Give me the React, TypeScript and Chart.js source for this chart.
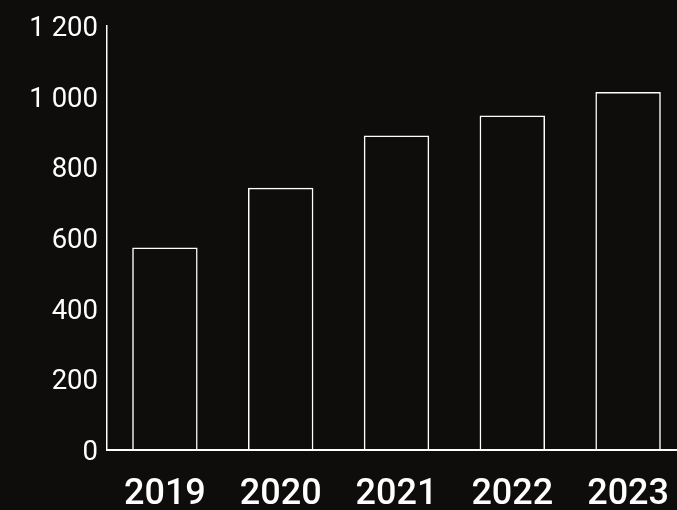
import { useEffect, useRef } from "react";
import { Chart, registerables } from "chart.js";

Chart.register(...registerables);

const categories = ["2019", "2020", "2021", "2022", "2023"];
const values = [573, 742, 890, 947, 1013];
const yMin = 0;
const yMax = 1200;
const yStep = 200;

const BG = "#0e0d0b";
const FG = "#ffffff";

const fmt = (v: number) => String(v).replace(/\B(?=(\d{3})+(?!\d))/g, " ");

export default function App() {
  const ref = useRef<HTMLCanvasElement>(null);

  useEffect(() => {
    document.body.style.margin = "0";
    document.body.style.background = BG;
    document.body.style.overflow = "hidden";
    const chart = new Chart(ref.current!, {
      type: "bar",
      data: {
        labels: categories,
        datasets: [
          {
            data: values,
            backgroundColor: "rgba(0,0,0,0)",
            borderColor: FG,
            borderWidth: 1.5,
            barPercentage: 0.565,
            categoryPercentage: 1,
          },
        ],
      },
      options: {
        animation: false,
        responsive: false,
        maintainAspectRatio: false,
        layout: { padding: { top: 26, right: 4, left: 0, bottom: 0 } },
        plugins: { legend: { display: false }, tooltip: { enabled: false } },
        scales: {
          x: {
            grid: { display: false },
            border: { color: FG, width: 2 },
            ticks: {
              color: FG,
              padding: 15,
              font: { family: "Roboto", size: 36, weight: 500 },
            },
            afterFit: (s: any) => {
              s.height = 510 - 450;
            },
          },
          y: {
            min: yMin,
            max: yMax,
            grid: { display: false },
            border: { color: FG, width: 1.5 },
            ticks: {
              stepSize: yStep,
              color: FG,
              padding: 1,
              labelOffset: 3,
              font: { family: "Roboto", size: 27.5, weight: 400 },
              callback: (v: any) => fmt(Number(v)),
            },
            afterFit: (s: any) => {
              s.width = 107;
            },
          },
        },
      },
    });
    return () => chart.destroy();
  }, []);

  return (
    <div
      style={{
        position: "fixed",
        left: 0,
        top: 0,
        width: 677,
        height: 510,
        overflow: "hidden",
        background: BG,
      }}
    >
      <canvas ref={ref} width={690} height={510} style={{ display: "block", width: 690, height: 510 }} />
    </div>
  );
}
